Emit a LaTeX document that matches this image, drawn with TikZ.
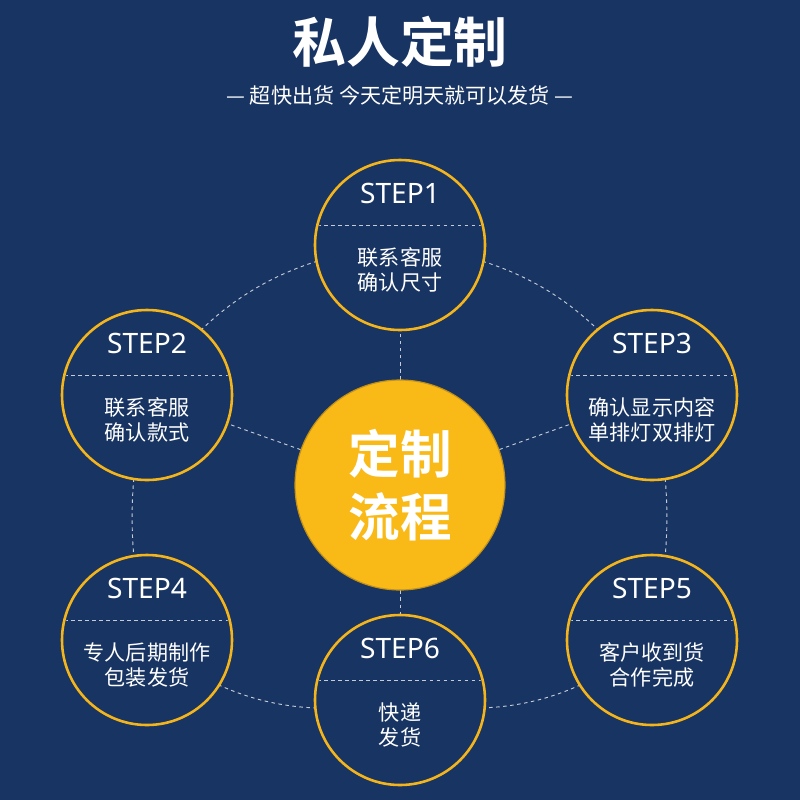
\documentclass[tikz,border=0pt]{standalone}
\usepackage{fontspec}
\usetikzlibrary{calc}
\newfontfamily\cjk{Noto Sans CJK SC}
\newfontfamily\cjkb{Noto Sans CJK SC Bold}
\setmainfont{Noto Sans}
\definecolor{navy}{HTML}{183462}
\definecolor{gold}{HTML}{F9B917}
\definecolor{ring}{HTML}{F3B51B}
\begin{document}
\begin{tikzpicture}[x=0.03cm,y=-0.03cm,
  stepc/.style={circle,draw=ring,line width=2.2pt,fill=navy,minimum size=5.1cm,inner sep=0},
  steplbl/.style={text=white,font=\bfseries\fontsize{24}{28}\selectfont},
  body/.style={text=white,font=\cjk\fontsize{18}{22}\selectfont,align=center},
  dline/.style={white!75!navy,dash pattern=on 3pt off 3pt,line width=0.8pt}]
\fill[navy] (0,0) rectangle (800,800);
\node[text=white,font=\cjkb\fontsize{46}{50}\selectfont] (title) at (400,42) {私人定制};
\node[text=white,font=\cjk\fontsize{18}{22}\selectfont] (sub) at (400,95) {— 超快出货 今天定明天就可以发货 —};
\coordinate (c1) at (400,245);
\coordinate (c2) at (147,395);
\coordinate (c3) at (652,395);
\coordinate (c4) at (147,640);
\coordinate (c5) at (652,640);
\coordinate (c6) at (400,700);
\coordinate (cc) at (400,485);
% connectors
\draw[dline] (c1) to[bend right=25] (c2);
\draw[dline] (c1) to[bend left=25] (c3);
\draw[dline] (c2) to[bend right=12] (c4);
\draw[dline] (c3) to[bend left=12] (c5);
\draw[dline] (c4) to[bend right=25] (c6);
\draw[dline] (c5) to[bend left=25] (c6);
\foreach \k in {1,2,3,6} \draw[dline] (cc) -- (c\k);
% circles
\foreach \k/\s/\t in {1/STEP1/{联系客服\\确认尺寸},2/STEP2/{联系客服\\确认款式},3/STEP3/{确认显示内容\\单排灯双排灯},4/STEP4/{专人后期制作\\包装发货},5/STEP5/{客户收到货\\合作完成},6/STEP6/{快递\\发货}}{
  \node[stepc] (n\k) at (c\k) {};
  \begin{scope}
    \clip (c\k) circle (83);
    \draw[dline] ($(c\k)+(-90,-20)$) -- ($(c\k)+(90,-20)$);
  \end{scope}
  \node[steplbl] (s\k) at ($(c\k)+(0,-52)$) {\s};
  \node[body] (b\k) at ($(c\k)+(0,25)$) {\t};
}
\node[circle,fill=gold,draw=ring!80!black,line width=1pt,minimum size=6.3cm] (center) at (cc) {};
\node[text=white,font=\cjkb\fontsize{44}{54}\selectfont,align=center] (ctext) at (cc) {定制\\流程};
\end{tikzpicture}
\end{document}
